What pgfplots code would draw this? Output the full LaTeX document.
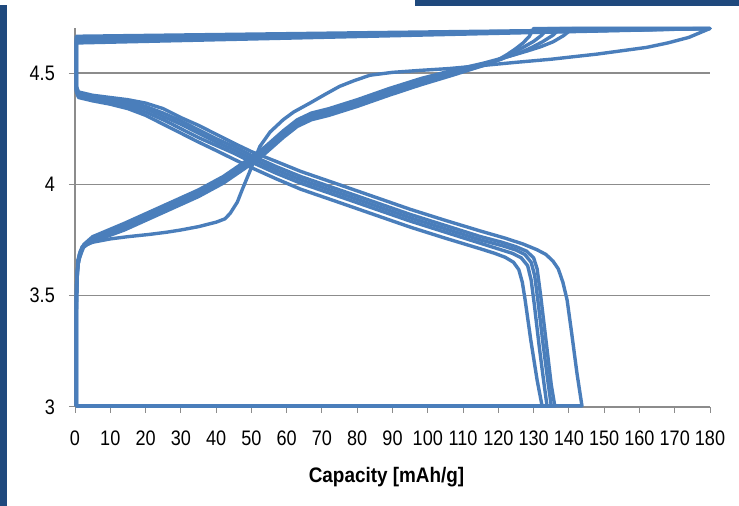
\documentclass[border=0pt]{standalone}
\usepackage{fontspec}
\setmainfont{Liberation Sans}[FakeStretch=0.86]
\newfontfamily\labelfont{Liberation Sans}[FakeStretch=0.9]
\usepackage{pgfplots}
\pgfplotsset{compat=1.18}

\definecolor{cycleblue}{RGB}{74,126,187}
\definecolor{barblue}{RGB}{31,73,125}
\definecolor{gridgray}{RGB}{140,140,140}

\tikzset{cyc/.style={draw=cycleblue, line width=3.4bp, line join=round, line cap=round, mark=none}}

\begin{document}
\begin{tikzpicture}[x=1bp,y=1bp]
\useasboundingbox (0,0) rectangle (739,506);
% frame decorations
\fill[barblue] (0,0) rectangle (7.3,501);
\fill[barblue] (415,500.3) rectangle (739,506);

\begin{axis}[
  at={(75bp,99bp)}, anchor=south west,
  scale only axis, width=635bp, height=378.5bp,
  xmin=0, xmax=180, ymin=3, ymax=4.7,
  xtick={0,10,...,180}, ytick={3,3.5,4,4.5},
  axis x line=bottom, axis y line=left,
  axis line style={draw=gridgray, line width=1.2bp, -},
  tick style={draw=gridgray, line width=1bp},
  tick align=outside, major tick length=6bp,
  ymajorgrids, grid style={draw=gridgray, line width=1.2bp},
  clip=false,
  /pgf/number format/assume math mode=true,
  ticklabel style={font=\fontsize{21bp}{25bp}\selectfont, text=black, inner sep=0pt},
  xticklabel style={anchor=north, yshift=-18bp},
  yticklabel style={anchor=east, xshift=-14bp},
  xlabel={Capacity [mAh/g]},
  xlabel style={font=\labelfont\bfseries\fontsize{21bp}{25bp}\selectfont,
    at={(axis description cs:0.4906,0)}, anchor=base, yshift=-76bp, inner sep=0pt},
]
% cycle 1
\addplot[cyc] coordinates {
(0.4,3.005) (0.4,3.50) (0.8,3.66) (2,3.72) (5,3.74) (10,3.755) (15,3.765) (21,3.775) (26,3.785)
(30,3.795) (35,3.81) (40,3.83) (42.5,3.845) (44,3.87) (46,3.92) (47.5,3.98) (49.6,4.06)
(52.4,4.17) (55.3,4.235) (59,4.29) (62,4.325) (66.6,4.365) (71,4.405) (75,4.44) (79,4.465)
(83.6,4.49) (90,4.503) (98,4.512) (106,4.52) (115,4.533) (125,4.548) (135,4.562) (148,4.585)
(155,4.60) (162,4.615) (168,4.635) (174,4.66) (180,4.70)
(0.4,4.665) (0.4,4.44) (1,4.415) (5,4.40) (10,4.39) (15,4.38) (20,4.365) (25,4.34) (30,4.30)
(35,4.265) (40,4.225) (45,4.185) (50,4.147) (57,4.103) (64,4.058) (75,3.998) (85,3.943) (95,3.888)
(105,3.838) (115,3.79) (122,3.758) (127,3.732) (131,3.706) (133.5,3.685) (135.5,3.655)
(137,3.62) (138.3,3.56) (139.5,3.48) (140.8,3.33) (142.3,3.15) (143.7,3.005) (0.4,3.005)
};
% cycle 2
\addplot[cyc] coordinates {
(0.4,3.005) (0.4,3.40) (0.6,3.60) (1.2,3.685) (2.5,3.73) (5,3.765) (8,3.785) (14,3.825)
(21,3.875) (28,3.925) (35,3.975) (42,4.035) (48,4.10) (54,4.17) (59,4.24) (63,4.29) (67,4.32)
(72,4.34) (80,4.38) (89,4.43) (98,4.475) (107,4.512) (116,4.545) (123,4.575) (128,4.598)
(132,4.618) (135.5,4.64) (138.5,4.668) (141,4.70) (180,4.70)
(0.4,4.657) (0.4,4.43) (1,4.405) (5,4.395) (10,4.385) (15,4.37) (20,4.35) (25,4.32) (30,4.285)
(35,4.245) (40,4.205) (45,4.17) (50,4.13) (57,4.08) (64,4.035) (75,3.975) (85,3.92) (95,3.865)
(105,3.815) (115,3.765) (121,3.74) (125,3.72) (128,3.70) (130,3.67) (131,3.62) (132,3.5)
(133.5,3.3) (135,3.1) (136,3.005) (0.4,3.005)
};
% cycle 3
\addplot[cyc] coordinates {
(0.4,3.005) (0.4,3.45) (0.7,3.62) (1.5,3.70) (3,3.735) (5,3.755) (8,3.775) (14,3.815)
(21,3.865) (28,3.915) (35,3.965) (42,4.025) (48,4.09) (54,4.16) (59,4.23) (63,4.28) (67,4.31)
(72,4.33) (80,4.37) (89,4.42) (98,4.465) (107,4.505) (116,4.54) (122,4.57) (126,4.59)
(129.5,4.615) (132.5,4.64) (135.5,4.67) (137.5,4.70) (180,4.70)
(0.4,4.65) (0.4,4.425) (1,4.40) (5,4.39) (10,4.375) (15,4.36) (20,4.34) (25,4.305) (30,4.27)
(35,4.23) (40,4.19) (45,4.155) (50,4.115) (57,4.065) (64,4.02) (75,3.96) (85,3.905) (95,3.85)
(105,3.80) (115,3.75) (121,3.725) (125,3.705) (127.5,3.685) (129.3,3.65) (130.3,3.59)
(131.2,3.48) (132.7,3.28) (134,3.12) (135,3.005) (0.4,3.005)
};
% cycle 4
\addplot[cyc] coordinates {
(0.4,3.005) (0.4,3.50) (0.8,3.64) (2,3.71) (4,3.74) (6,3.755) (9,3.77) (14,3.805) (21,3.855)
(28,3.905) (35,3.955) (42,4.015) (48,4.08) (54,4.15) (59,4.22) (63,4.27) (67,4.30) (72,4.32)
(80,4.36) (89,4.41) (98,4.455) (107,4.497) (116,4.535) (121,4.563) (124,4.588) (127,4.615)
(130,4.642) (132.3,4.67) (134,4.70) (180,4.70)
(0.4,4.643) (0.4,4.42) (1,4.395) (5,4.385) (10,4.37) (15,4.35) (20,4.325) (25,4.29) (30,4.25)
(35,4.21) (40,4.175) (45,4.14) (50,4.10) (57,4.05) (64,4.005) (75,3.945) (85,3.89) (95,3.835)
(105,3.785) (115,3.735) (120,3.71) (124,3.69) (126.5,3.67) (128.3,3.635) (129.3,3.57)
(130.2,3.46) (131.6,3.27) (132.9,3.11) (133.8,3.005) (0.4,3.005)
};
% cycle 5
\addplot[cyc] coordinates {
(0.4,3.005) (0.4,3.55) (1,3.66) (2.5,3.72) (5,3.745) (8,3.76) (14,3.795) (21,3.845) (28,3.895)
(35,3.945) (42,4.005) (48,4.07) (54,4.14) (59,4.21) (63,4.26) (67,4.29) (72,4.31) (80,4.35)
(89,4.40) (98,4.447) (107,4.49) (113,4.52) (117,4.54) (120,4.56) (122.5,4.583) (125,4.61)
(127,4.635) (128.8,4.665) (130,4.70) (180,4.70)
(0.4,4.635) (0.4,4.415) (1,4.39) (5,4.375) (10,4.36) (15,4.34) (20,4.31) (25,4.27) (30,4.23)
(35,4.19) (40,4.152) (45,4.113) (50,4.075) (57,4.025) (64,3.978) (75,3.918) (85,3.863) (95,3.808)
(105,3.758) (115,3.71) (119,3.69) (122,3.672) (124.3,3.65) (125.8,3.617) (126.8,3.56)
(127.6,3.48) (129.2,3.3) (131,3.12) (132.4,3.005)
};
\end{axis}
\end{tikzpicture}
\end{document}
